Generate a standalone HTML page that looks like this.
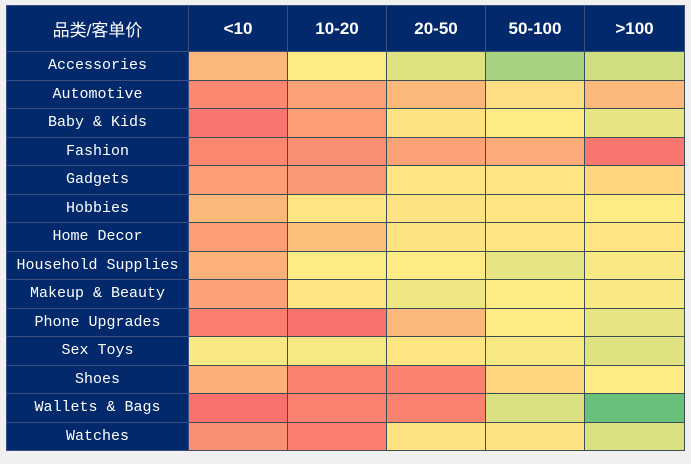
<!DOCTYPE html>
<html><head><meta charset="utf-8"><style>
body{margin:0;background:#f0f0f0;width:691px;height:464px;overflow:hidden}
#wrap{position:absolute;left:6px;top:5px}
table{border-collapse:collapse;table-layout:fixed}
td,th{padding:0;text-align:center;border:1.5px solid #3b4d55;overflow:hidden;white-space:nowrap}
th{background:#02296b;color:#fff;height:45px;font:bold 17px "Liberation Sans","Noto Sans CJK SC",sans-serif;border-color:#3a5080}
th.first{font-weight:normal;font-size:17px}
td.lab{background:#02296b;color:#fff;font:15px "Liberation Mono","Noto Sans CJK SC",monospace;border-color:#3a5080}
td{height:27.5px}
</style></head><body>
<div id="wrap">
<table id="t">
<colgroup><col style="width:182px"><col style="width:99px"><col style="width:99px"><col style="width:99px"><col style="width:99px"><col style="width:100px"></colgroup>
<thead><tr id="hr"><th class="first">品类/客单价</th></tr></thead>
<tbody id="tb"></tbody>
</table>
</div>
<script>
const priceBands=["<10","10-20","20-50","50-100",">100"];
const categories=["Accessories","Automotive","Baby & Kids","Fashion","Gadgets","Hobbies","Home Decor","Household Supplies","Makeup & Beauty","Phone Upgrades","Sex Toys","Shoes","Wallets & Bags","Watches"];
const scores=[
[0.30,0.50,0.60,0.78,0.65],
[0.12,0.22,0.30,0.45,0.30],
[0.05,0.20,0.47,0.50,0.58],
[0.12,0.15,0.22,0.25,0.05],
[0.20,0.18,0.48,0.48,0.42],
[0.30,0.48,0.47,0.48,0.50],
[0.20,0.33,0.47,0.48,0.48],
[0.28,0.50,0.50,0.58,0.52],
[0.22,0.48,0.55,0.50,0.52],
[0.08,0.03,0.30,0.50,0.58],
[0.52,0.53,0.48,0.52,0.60],
[0.27,0.10,0.10,0.42,0.50],
[0.03,0.10,0.10,0.62,0.98],
[0.15,0.08,0.47,0.47,0.62]
];
const R=[248,105,107],Y=[255,235,132],G=[99,190,123];
function color(v){let a,b,t;if(v<0.5){a=R;b=Y;t=v/0.5}else{a=Y;b=G;t=(v-0.5)/0.5}
return 'rgb('+a.map((c,i)=>Math.round(c+(b[i]-c)*t)).join(',')+')'}
const hr=document.getElementById('hr');
priceBands.forEach(p=>{const th=document.createElement('th');th.textContent=p;


hr.appendChild(th)});
const tb=document.getElementById('tb');
categories.forEach((c,i)=>{const tr=document.createElement('tr');


const l=document.createElement('td');l.className='lab';l.textContent=c;


tr.appendChild(l);
scores[i].forEach(v=>{const td=document.createElement('td');td.style.background=color(v);


tr.appendChild(td)});
tb.appendChild(tr)});
</script>
</body></html>
